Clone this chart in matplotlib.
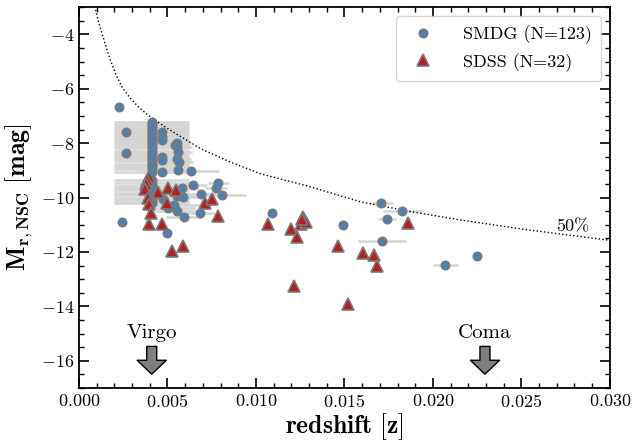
import numpy as np
import matplotlib
matplotlib.use('Agg')
import matplotlib.pyplot as plt
from matplotlib.ticker import MultipleLocator

plt.rcParams['font.family'] = 'cmr10'
plt.rcParams['mathtext.fontset'] = 'cm'
plt.rcParams['axes.formatter.use_mathtext'] = True

# SMDG nuclei in Virgo: all at the cluster redshift
virgo_z = 0.0041
virgo_err = 0.00212
# hidden ones (drawn first), then the ones seen on top
virgo_mag_back = [-7.30, -7.38, -7.52, -7.60, -7.66, -7.80, -7.88, -7.95, -8.10,
                  -8.18, -8.35, -8.42, -8.58, -8.65, -8.75, -8.88, -8.95, -9.05,
                  -9.35, -9.45, -9.65, -9.72, -9.92, -10.00, -10.08, -10.15, -10.20]
virgo_mag_front = [-7.23, -7.45, -7.72, -8.02, -8.27, -8.50, -8.80, -9.58, -9.85]

# other SMDG nuclei: redshift, magnitude, redshift error
smdg_z = [0.00228, 0.00266, 0.00266, 0.00245,
          0.00467, 0.00467, 0.00467, 0.00467, 0.00467, 0.00467,
          0.00542, 0.00555, 0.00556, 0.00558, 0.00555, 0.00565, 0.00561,
          0.00633, 0.00642, 0.00580, 0.00589, 0.00555, 0.00473, 0.00687,
          0.00774, 0.00787, 0.00806, 0.00539, 0.00505, 0.00552, 0.00593,
          0.00684, 0.00495, 0.01089, 0.01493, 0.01706, 0.01827, 0.01742,
          0.01714, 0.02070, 0.02247]
smdg_mag = [-6.66, -7.60, -8.36, -10.88,
            -7.60, -7.76, -7.90, -8.51, -8.63, -9.06,
            -8.08, -8.00, -8.14, -8.33, -8.60, -8.69, -9.00,
            -9.02, -9.55, -9.63, -9.97, -9.94, -10.06, -9.87,
            -9.63, -9.48, -9.91, -10.27, -10.39, -10.51, -10.70,
            -10.57, -11.30, -10.57, -11.00, -10.21, -10.49, -10.79,
            -11.58, -12.48, -12.14]
smdg_err = [0.0, 0.0003, 0.0003, 0.0,
            0.0015, 0.0015, 0.0015, 0.0015, 0.0015, 0.0015,
            0.0008, 0.0008, 0.0008, 0.0008, 0.0008, 0.0008, 0.0008,
            0.0016, 0.0008, 0.0010, 0.0010, 0.0010, 0.0015, 0.0008,
            0.0006, 0.0006, 0.0014, 0.0015, 0.0015, 0.0012, 0.0010,
            0.0008, 0.0, 0.0002, 0.0002, 0.0007, 0.0011, 0.0005,
            0.00135, 0.0007, 0.0002]

# SDSS nuclei
sdss_z = [0.00397, 0.00385, 0.00380, 0.00375, 0.00448, 0.00505, 0.00550, 0.00388,
          0.00393, 0.00495, 0.00409, 0.00395, 0.00469, 0.00712, 0.00754, 0.00784,
          0.00586, 0.00525, 0.01070, 0.01196, 0.01230, 0.01252, 0.01267, 0.01281,
          0.01260, 0.01213, 0.01461, 0.01603, 0.01667, 0.01682, 0.01522, 0.01857]
sdss_mag = [-9.26, -9.35, -9.50, -9.70, -9.80, -9.63, -9.71, -10.02,
            -10.24, -10.21, -10.55, -10.96, -10.97, -10.20, -10.06, -10.67,
            -11.79, -11.97, -10.96, -11.15, -11.45, -10.96, -10.72, -10.88,
            -10.80, -13.25, -11.77, -12.03, -12.12, -12.52, -13.92, -10.94]

# 50% completeness curve
curve_z = [0.00094, 0.00110, 0.00132, 0.00155, 0.00179, 0.00210, 0.00245, 0.00290,
           0.00339, 0.00385, 0.00433, 0.00500, 0.00565, 0.00687, 0.00850, 0.01023,
           0.01305, 0.01588, 0.01870, 0.02153, 0.02529, 0.03000]
curve_mag = [-3.10, -3.55, -4.01, -4.50, -4.98, -5.50, -5.96, -6.35,
             -6.69, -6.94, -7.17, -7.46, -7.72, -8.20, -8.68, -9.12,
             -9.60, -10.15, -10.51, -10.82, -11.18, -11.57]

clusters = ['Virgo', 'Coma']
cluster_z = [0.00411, 0.02294]

fig, ax = plt.subplots(figsize=(6.32, 4.45), dpi=100)
fig.subplots_adjust(left=0.125, right=0.965, top=0.984, bottom=0.128)

blue = '#4a80b5'
red = '#b2201f'
edge = '#7a7a7a'

virgo_mag = virgo_mag_back + virgo_mag_front
all_z = [virgo_z] * len(virgo_mag) + smdg_z
all_mag = virgo_mag + smdg_mag
all_err = [virgo_err] * len(virgo_mag) + smdg_err

ax.errorbar(all_z, all_mag, xerr=all_err, fmt='none', ecolor='#d4d4d4',
            elinewidth=1.8, capsize=0, zorder=1)
ax.plot(curve_z, curve_mag, ls=':', color='k', lw=1.0, zorder=2)
ax.plot([virgo_z] * len(virgo_mag_back), virgo_mag_back, 'o', ms=6, mfc=blue,
        mec=edge, mew=1.2, ls='none', zorder=3)
ax.plot([virgo_z] * len(virgo_mag_front) + smdg_z, virgo_mag_front + smdg_mag, 'o',
        ms=6, mfc=blue, mec=edge, mew=1.2, ls='none', zorder=3,
        label='SMDG (N=123)')
ax.plot(sdss_z, sdss_mag, '^', ms=8, mfc=red, mec=edge, mew=1.2, ls='none',
        zorder=4, label='SDSS (N=32)')

ax.text(0.0279, -11.06, '50%', fontsize=13, ha='center', va='center')

for name, zc in zip(clusters, cluster_z):
    ax.annotate('', xy=(zc, -16.49), xytext=(zc, -15.47),
                arrowprops=dict(arrowstyle='simple,head_width=2.1,head_length=1.0,tail_width=0.72',
                                fc='#7f7f7f', ec='k', lw=1.0, shrinkA=0, shrinkB=0))
    ax.text(zc, -14.97, name, fontsize=15, ha='center', va='center')

ax.set_xlim(0, 0.03)
ax.set_ylim(-17, -3)
ax.xaxis.set_major_locator(MultipleLocator(0.005))
ax.xaxis.set_minor_locator(MultipleLocator(0.001))
ax.yaxis.set_major_locator(MultipleLocator(2))
ax.yaxis.set_minor_locator(MultipleLocator(0.5))
ax.tick_params(which='both', direction='in', top=True, right=True, labelsize=13)
ax.tick_params(which='major', length=7, width=1.2)
ax.tick_params(which='minor', length=3.5, width=1.0)
for s in ax.spines.values():
    s.set_linewidth(1.3)

ax.set_xlabel(r'$\mathbf{redshift\ [z]}$', fontsize=18.5, labelpad=1)
ax.set_ylabel(r'$\mathbf{M_{r,NSC}\ [mag]}$', fontsize=18.5, labelpad=3)

ax.legend(loc='upper right', fontsize=13, frameon=True, edgecolor='#cccccc',
          handletextpad=1.2, borderpad=0.5, labelspacing=0.5)

plt.savefig('out.png', dpi=100)
